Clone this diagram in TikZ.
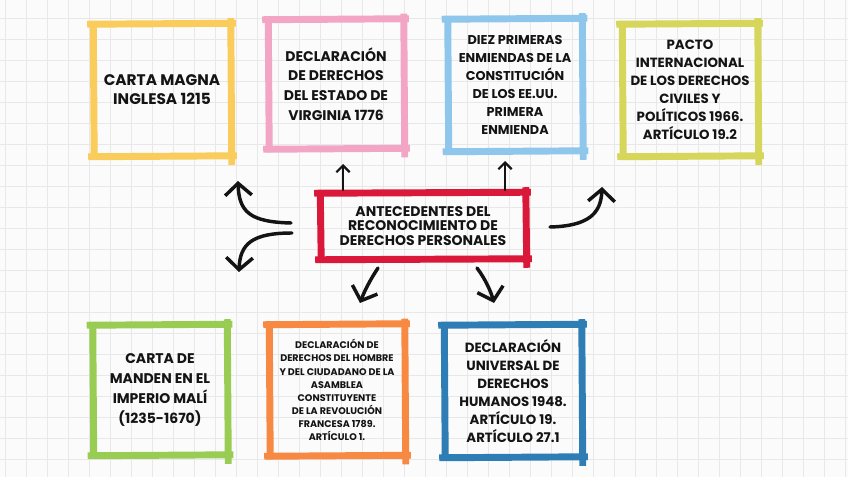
\documentclass[tikz,border=0pt]{standalone}
\usepackage{fontspec}
\setmainfont{Poppins}
\usetikzlibrary{arrows.meta,positioning}
\definecolor{paperFill}{RGB}{251,251,251}
\definecolor{gridLine}{RGB}{232,232,232}
\definecolor{magnaStroke}{RGB}{249,204,91}
\definecolor{virginiaStroke}{RGB}{243,165,197}
\definecolor{enmiendaStroke}{RGB}{142,198,236}
\definecolor{pactoStroke}{RGB}{214,214,90}
\definecolor{mandenStroke}{RGB}{152,204,82}
\definecolor{francesaStroke}{RGB}{247,137,67}
\definecolor{universalStroke}{RGB}{46,126,181}
\definecolor{hubStroke}{RGB}{218,24,58}
\colorlet{ink}{black!92}
\newcommand{\px}{0.75pt}
\tikzset{
  brush/.style={line width=5.2pt, line cap=butt},
  arrow/.style={-{Straight Barb[length=9pt,width=20pt,line width=2.6pt]}, draw=ink, line width=2.6pt, line cap=round},
  smallarrow/.style={-{Straight Barb[length=5pt,width=10pt,line width=1.7pt]}, draw=ink, line width=1.7pt, line cap=round},
  box/.style={
    inner sep=0pt,
    align=center,
    text=ink,
    font=\bfseries\fontsize{10}{13.5}\selectfont
  },
  bigtext/.style={font=\bfseries\fontsize{11.5}{14.3}\selectfont},
  midtext/.style={font=\bfseries\fontsize{10.5}{14.8}\selectfont},
  smalltext/.style={font=\bfseries\fontsize{7.2}{9.8}\selectfont}
}
\newcommand{\BrushBox}[2]{%
  \draw[brush,#2] ([shift={(-6,0)}]#1.north west) -- ([shift={(5,-1)}]#1.north east);
  \draw[brush,#2] ([shift={(0,-3)}]#1.north west) -- ([shift={(1,4)}]#1.south west);
  \draw[brush,#2] ([shift={(0,-6)}]#1.north east) -- ([shift={(1,9)}]#1.south east);
  \draw[brush,#2] ([shift={(-5,1)}]#1.south west) -- ([shift={(6,0)}]#1.south east);
}

\begin{document}
\begin{tikzpicture}[x=0.75pt,y=-0.75pt]
  \fill[paperFill] (0,0) rectangle (848,477);
  \useasboundingbox (0,0) rectangle (848,477);
  \foreach \gx in {5,26,...,848} \draw[gridLine, line width=0.7pt] (\gx,0) -- (\gx,477);
  \foreach \gy in {-3,18,...,477} \draw[gridLine, line width=0.7pt] (0,\gy) -- (848,\gy);

  % top row
  \node[box, bigtext, minimum width=137*\px, minimum height=131*\px] (magna) at (162,90)
    {CARTA MAGNA\\INGLESA 1215};
  \node[box, midtext, minimum width=135*\px, minimum height=128*\px] (virginia) at (336,84)
    {DECLARACIÓN\\DE DERECHOS\\DEL ESTADO DE\\VIRGINIA 1776};
  \node[box, minimum width=134*\px, minimum height=131*\px, font=\bfseries\fontsize{9.6}{13.5}\selectfont] (enmiendas) at (515,85)
    {DIEZ PRIMERAS\\ENMIENDAS DE LA\\CONSTITUCIÓN\\DE LOS EE.UU.\\PRIMERA\\ENMIENDA};
  \node[box, minimum width=135*\px, minimum height=131*\px] (pacto) at (690,90)
    {PACTO\\INTERNACIONAL\\DE LOS DERECHOS\\CIVILES Y\\POLÍTICOS 1966.\\ARTÍCULO 19.2};

  % bottom row
  \node[box, midtext, minimum width=134*\px, minimum height=129*\px] (manden) at (160,390)
    {CARTA DE\\MANDEN EN EL\\IMPERIO MALÍ\\(1235-1670)};
  \node[box, smalltext, minimum width=135*\px, minimum height=130*\px] (francesa) at (337,390)
    {DECLARACIÓN DE\\DERECHOS DEL HOMBRE\\Y DEL CIUDADANO DE LA\\ASAMBLEA\\CONSTITUYENTE\\DE LA REVOLUCIÓN\\FRANCESA 1789.\\ARTÍCULO 1.};
  \node[box, minimum width=137*\px, minimum height=131*\px] (universal) at (513,391)
    {DECLARACIÓN\\UNIVERSAL DE\\DERECHOS\\HUMANOS 1948.\\ARTÍCULO 19.\\ARTÍCULO 27.1};

  % centre
  \node[box, minimum width=205*\px, minimum height=65*\px, font=\bfseries\fontsize{10.5}{10.8}\selectfont] (hub) at (423,226)
    {ANTECEDENTES DEL\\RECONOCIMIENTO DE\\DERECHOS PERSONALES};

  \BrushBox{magna}{magnaStroke}
  \BrushBox{virginia}{virginiaStroke}
  \BrushBox{enmiendas}{enmiendaStroke}
  \BrushBox{pacto}{pactoStroke}
  \BrushBox{manden}{mandenStroke}
  \BrushBox{francesa}{francesaStroke}
  \BrushBox{universal}{universalStroke}
  \BrushBox{hub}{hubStroke}

  % arrow ends
  \coordinate (toVirginia) at (343,164);
  \coordinate (fromVirginia) at (343,190);
  \coordinate (toEnmiendas) at (505,161);
  \coordinate (fromEnmiendas) at (505,190);
  \coordinate (fromPacto) at (550,227);
  \coordinate (toPacto) at (602,187);
  \coordinate (fromMagna) at (291,223);
  \coordinate (toMagna) at (238,181);
  \coordinate (fromManden) at (292,233);
  \coordinate (toManden) at (239,272);
  \coordinate (fromFrancesa) at (378,268);
  \coordinate (toFrancesa) at (360,303);
  \coordinate (fromUniversal) at (477,268);
  \coordinate (toUniversal) at (494,303);

  \draw[smallarrow] (fromVirginia) -- (toVirginia);
  \draw[smallarrow] (fromEnmiendas) -- (toEnmiendas);
  \draw[arrow] (fromPacto) .. controls (588,226) and (601,214) .. (toPacto);
  \draw[arrow] (fromMagna) .. controls (250,222) and (239,212) .. (toMagna);
  \draw[arrow] (fromManden) .. controls (252,233) and (240,244) .. (toManden);
  \draw[arrow] (fromFrancesa) .. controls (370,280) and (364,292) .. (toFrancesa);
  \draw[arrow] (fromUniversal) .. controls (486,280) and (491,292) .. (toUniversal);
\end{tikzpicture}
\end{document}
